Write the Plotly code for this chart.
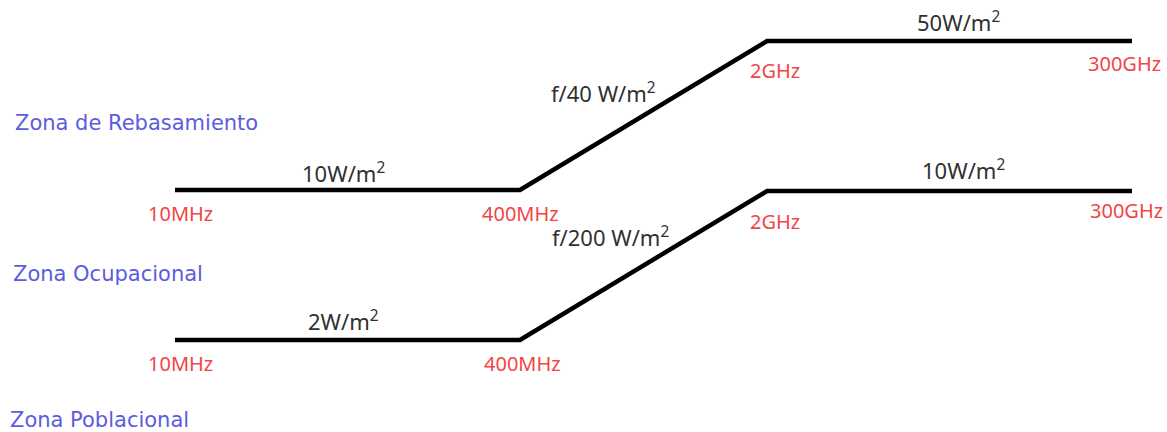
import plotly.graph_objects as go

# Schematic breakpoints (frequency labels and their positions on the diagram)
freq_labels = ["10MHz", "400MHz", "2GHz", "300GHz"]
freq_pos = [175, 520, 767, 1132]

# Limit levels on the schematic vertical scale (smaller = higher)
rebasamiento_level = [190, 190, 41, 41]
ocupacional_level = [340, 340, 191, 191]

rebasamiento_texts = ["10W/m<sup>2</sup>", "f/40 W/m<sup>2</sup>", "50W/m<sup>2</sup>"]
ocupacional_texts = ["2W/m<sup>2</sup>", "f/200 W/m<sup>2</sup>", "10W/m<sup>2</sup>"]

zone_names = ["Zona de Rebasamiento", "Zona Ocupacional", "Zona Poblacional"]

RED = "#f24545"
BLUE = "#5c5ce0"
DARK = "#303030"

fig = go.Figure()
for ys in (rebasamiento_level, ocupacional_level):
    fig.add_trace(go.Scatter(x=freq_pos, y=ys, mode="lines",
                             line=dict(color="black", width=4.5),
                             hoverinfo="skip", showlegend=False))

ann = []
# zone labels
for name, (x, y) in zip(zone_names, [(13, 123), (11, 274), (8, 420)]):
    ann.append(dict(x=x, y=y, text=name, xanchor="left", yanchor="middle",
                    font=dict(color=BLUE, size=21, family="DejaVu Sans")))

# frequency labels
top_freq_xy = [(180, 213), (520, 213), (775, 70), (1124, 63)]
bot_freq_xy = [(180, 363), (522, 363), (775, 221), (1126, 210)]
for xys in (top_freq_xy, bot_freq_xy):
    for lab, (x, y) in zip(freq_labels, xys):
        ann.append(dict(x=x, y=y, text=lab, xanchor="center", yanchor="middle",
                        font=dict(color=RED, size=20, family="Noto Sans")))

# level labels
top_lvl_xy = [(343, 172), (603, 92), (958, 21)]
bot_lvl_xy = [(343, 320), (610, 236), (963, 169)]
for texts, xys in ((rebasamiento_texts, top_lvl_xy), (ocupacional_texts, bot_lvl_xy)):
    for t, (x, y) in zip(texts, xys):
        ann.append(dict(x=x, y=y, text=t, xanchor="center", yanchor="middle",
                        font=dict(color=DARK, size=22, family="Noto Sans")))

for a in ann:
    a.update(xref="x", yref="y", showarrow=False)

fig.update_layout(
    width=1167, height=432,
    margin=dict(l=0, r=0, t=0, b=0),
    paper_bgcolor="white", plot_bgcolor="white",
    xaxis=dict(range=[0, 1167], visible=False, fixedrange=True),
    yaxis=dict(range=[432, 0], visible=False, fixedrange=True),
    annotations=ann,
)
fig.write_html("out.html", config={"displayModeBar": False},
               post_script="document.body.style.margin='0';document.body.style.overflow='hidden';")
